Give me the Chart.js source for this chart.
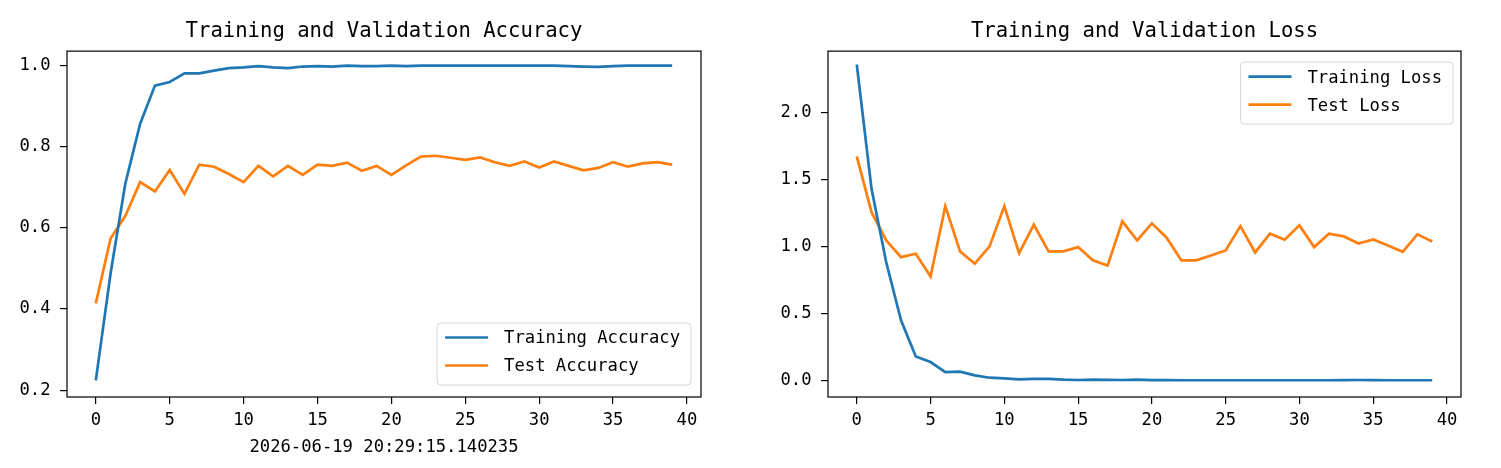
<!DOCTYPE html>
<html>
<head>
<meta charset="utf-8">
<script src="https://cdn.jsdelivr.net/npm/chart.js@4.4.0/dist/chart.umd.min.js"></script>
<style>
  html, body { margin: 0; padding: 0; background: #fff; }
  #wrap { position: relative; width: 1501px; height: 468px; }
  .box { position: absolute; top: 0; height: 468px; }
  #accBox { left: 0; width: 740px; }
  #lossBox { left: 740px; width: 761px; }
</style>
</head>
<body>
<div id="wrap">
  <div class="box" id="accBox"><canvas id="acc-chart"></canvas></div>
  <div class="box" id="lossBox"><canvas id="loss-chart"></canvas></div>
</div>
<script>
// epochs along the x axis
const epochs = [0, 1, 2, 3, 4, 5, 6, 7, 8, 9, 10, 11, 12, 13, 14, 15, 16, 17, 18, 19,
  20, 21, 22, 23, 24, 25, 26, 27, 28, 29, 30, 31, 32, 33, 34, 35, 36, 37, 38, 39];

const trainAcc = [0.224, 0.488, 0.71, 0.857, 0.951, 0.96, 0.981, 0.981, 0.988, 0.994,
  0.996, 0.999, 0.996, 0.994, 0.998, 0.999, 0.998, 1.0, 0.999, 0.999,
  1.0, 0.999, 1.0, 1.0, 1.0, 1.0, 1.0, 1.0, 1.0, 1.0,
  1.0, 1.0, 0.999, 0.998, 0.997, 0.999, 1.0, 1.0, 1.0, 1.0];
const testAcc = [0.414, 0.574, 0.63, 0.713, 0.69, 0.743, 0.684, 0.756, 0.751, 0.733,
  0.713, 0.753, 0.727, 0.753, 0.731, 0.756, 0.753, 0.761, 0.741, 0.753,
  0.731, 0.754, 0.776, 0.778, 0.773, 0.768, 0.774, 0.762, 0.753, 0.764,
  0.749, 0.764, 0.753, 0.742, 0.748, 0.762, 0.751, 0.759, 0.762, 0.756];

const trainLoss = [2.358, 1.43, 0.88, 0.448, 0.179, 0.137, 0.062, 0.065, 0.037, 0.02,
  0.015, 0.008, 0.012, 0.012, 0.005, 0.003, 0.005, 0.004, 0.003, 0.005,
  0.002, 0.002, 0.001, 0.001, 0.001, 0.001, 0.001, 0.001, 0.001, 0.001,
  0.001, 0.001, 0.001, 0.002, 0.003, 0.002, 0.001, 0.001, 0.001, 0.001];
const testLoss = [1.672, 1.256, 1.045, 0.92, 0.945, 0.776, 1.301, 0.963, 0.871, 1.0,
  1.301, 0.95, 1.162, 0.963, 0.963, 0.995, 0.896, 0.858, 1.187, 1.045,
  1.172, 1.065, 0.896, 0.896, 0.933, 0.97, 1.152, 0.955, 1.095, 1.05,
  1.157, 0.995, 1.095, 1.075, 1.022, 1.052, 1.007, 0.96, 1.09, 1.037];

// tick labels
const xTicks = [0, 5, 10, 15, 20, 25, 30, 35, 40];
const accTicks = [0.2, 0.4, 0.6, 0.8, 1.0];
const lossTicks = [0.0, 0.5, 1.0, 1.5, 2.0];

const timestamp = "2026-06-19 20:29:15.140235";

const BLUE = "#1f77b4";
const ORANGE = "#ff7f0e";
const FONT = "'DejaVu Sans Mono', monospace";

// axes frame on all four sides plus a matplotlib-like legend inside the plot
const frameLegend = {
  id: "frameLegend",
  afterDatasetsDraw(chart, args, opts) {
    const { ctx, chartArea: a } = chart;
    ctx.save();
    ctx.strokeStyle = "#000";
    ctx.lineWidth = 1.2;
    ctx.strokeRect(a.left, a.top, a.right - a.left, a.bottom - a.top);

    ctx.font = "17.2px " + FONT;
    const sets = chart.data.datasets;
    const textW = Math.max(...sets.map(d => ctx.measureText(d.label).width));
    const w = 8 + 43 + 16 + textW + 11;
    const h = 62;
    const x0 = a.right - opts.dx - w;
    const y0 = opts.lower ? a.bottom - opts.dy - h : a.top + opts.dy;

    ctx.beginPath();
    ctx.roundRect(x0, y0, w, h, 4);
    ctx.fillStyle = "rgba(255,255,255,0.8)";
    ctx.fill();
    ctx.strokeStyle = "#d6d6d6";
    ctx.lineWidth = 1;
    ctx.stroke();

    sets.forEach((d, i) => {
      const cy = y0 + 14.5 + i * 28;
      ctx.beginPath();
      ctx.moveTo(x0 + 8, cy);
      ctx.lineTo(x0 + 51, cy);
      ctx.strokeStyle = d.borderColor;
      ctx.lineWidth = 2.7;
      ctx.stroke();
      ctx.fillStyle = "#000";
      ctx.textBaseline = "middle";
      ctx.textAlign = "left";
      ctx.fillText(d.label, x0 + 67, cy + 1.5);
    });
    ctx.restore();
  }
};

function makeChart(id, cfg) {
  const ctx = document.getElementById(id).getContext("2d");
  const toPoints = vals => epochs.map((e, i) => ({ x: e, y: vals[i] }));

  return new Chart(ctx, {
    type: "line",
    data: {
      datasets: [{
        label: cfg.labels[0],
        data: toPoints(cfg.series[0]),
        borderColor: BLUE,
        backgroundColor: BLUE,
        borderWidth: 2.7,
        pointRadius: 0,
        tension: 0
      }, {
        label: cfg.labels[1],
        data: toPoints(cfg.series[1]),
        borderColor: ORANGE,
        backgroundColor: ORANGE,
        borderWidth: 2.7,
        pointRadius: 0,
        tension: 0
      }]
    },
    options: {
      responsive: true,
      maintainAspectRatio: false,
      animation: false,
      events: [],
      layout: { padding: { left: 0, right: cfg.padRight, top: 0, bottom: 0 } },
      plugins: {
        legend: { display: false },
        tooltip: { enabled: false },
        title: {
          display: true,
          text: cfg.title,
          fullSize: false,
          color: "#000",
          font: { family: FONT, size: 20.6, weight: "normal" },
          padding: { top: 19, bottom: 7.4 }
        },
        frameLegend: cfg.legend
      },
      scales: {
        x: {
          type: "linear",
          min: -1.95,
          max: 40.95,
          afterBuildTicks: s => { s.ticks = xTicks.map(v => ({ value: v })); },
          afterFit: s => { s.height = 71; },
          ticks: {
            color: "#000",
            padding: 6,
            maxRotation: 0,
            font: { family: FONT, size: 17.2 },
            callback: v => String(v)
          },
          grid: { drawOnChartArea: false, drawTicks: true, tickLength: 7, color: "#000", lineWidth: 1.2 },
          border: { display: false },
          title: {
            display: !!cfg.xTitle,
            text: cfg.xTitle || "",
            color: "#000",
            font: { family: FONT, size: 17.2 },
            padding: { top: 0, bottom: 10.5 }
          }
        },
        y: {
          min: cfg.yMin,
          max: cfg.yMax,
          afterBuildTicks: s => { s.ticks = cfg.yTicks.map(v => ({ value: v })); },
          afterFit: s => { s.width = cfg.yWidth; },
          ticks: {
            color: "#000",
            padding: 9.5,
            font: { family: FONT, size: 17.2 },
            callback: v => Number(v).toFixed(1)
          },
          grid: { drawOnChartArea: false, drawTicks: true, tickLength: 7, color: "#000", lineWidth: 1.2 },
          border: { display: false }
        }
      }
    },
    plugins: [frameLegend]
  });
}

makeChart("acc-chart", {
  title: "Training and Validation Accuracy",
  labels: ["Training Accuracy", "Test Accuracy"],
  series: [trainAcc, testAcc],
  yTicks: accTicks,
  yMin: 0.183,
  yMax: 1.036,
  yWidth: 67,
  padRight: 39,
  xTitle: timestamp,
  legend: { lower: true, dx: 10, dy: 12 }
});

makeChart("loss-chart", {
  title: "Training and Validation Loss",
  labels: ["Training Loss", "Test Loss"],
  series: [trainLoss, testLoss],
  yTicks: lossTicks,
  yMin: -0.124,
  yMax: 2.458,
  yWidth: 88,
  padRight: 40,
  xTitle: null,
  legend: { lower: false, dx: 8, dy: 11 }
});
</script>
</body>
</html>
